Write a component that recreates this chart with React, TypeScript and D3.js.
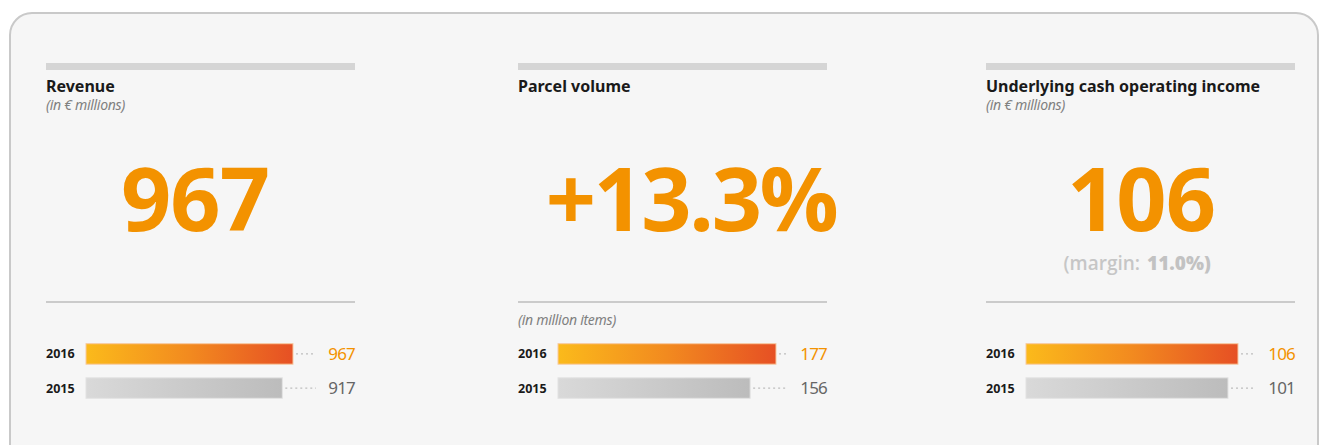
import React from "react";
import * as d3 from "d3";

const panelTitles = ["Revenue", "Parcel volume", "Underlying cash operating income"];
const panelUnits = ["(in € millions)", "", "(in € millions)"];
const headlineValues = ["967", "+13.3%", "106"];
const barUnits = ["", "(in million items)", ""];
const years = ["2016", "2015"];
const values2016 = [967, 177, 106];
const values2015 = [917, 156, 101];
const marginPrefix = ["", "", "(margin:"];
const marginValue = ["", "", "11.0%)"];

// layout (not data)
const panelX = [46, 518, 986];
const headlineCX = [195, 691, 1141];
const headlineLS = [-1, -2.5, -1];
const panelW = 309;
const barMaxW = [207, 218, 212];
const barX0 = 40;

const ORANGE = "#f39200";

export default function App() {
  const W = 1320, H = 445;
  const yBand = d3.scaleBand<string>().domain(years).range([342, 400]).paddingInner(0.4).paddingOuter(0.05);
  return (
    <svg width={W} height={H} style={{ position: "absolute", left: 0, top: 0 }} fontFamily="'Open Sans', 'Noto Sans', sans-serif">
      <defs>
        <linearGradient id="gOrange" x1="0" x2="1" y1="0" y2="0">
          <stop offset="0" stopColor="#fbba1b" />
          <stop offset="0.5" stopColor="#f28a1f" />
          <stop offset="1" stopColor="#e65024" />
        </linearGradient>
        <linearGradient id="gGrey" x1="0" x2="1" y1="0" y2="0">
          <stop offset="0" stopColor="#d9d9d9" />
          <stop offset="1" stopColor="#bcbcbc" />
        </linearGradient>
      </defs>
      <rect x={0} y={0} width={W} height={H} fill="#ffffff" />
      <rect x={10} y={13} width={1308} height={470} rx={22} ry={22} fill="#f6f6f6" stroke="#c9c9c9" strokeWidth={2} />
      {panelTitles.map((t, i) => {
        const x0 = panelX[i];
        const xs = d3.scaleLinear().domain([0, values2016[i]]).range([0, barMaxW[i]]);
        const vals = [values2016[i], values2015[i]];
        const cx = headlineCX[i];
        return (
          <g key={i}>
            <rect x={x0} y={63} width={panelW} height={7} fill="#d5d5d5" />
            <text x={x0} y={92} fontSize={16} fontWeight={700} fill="#1a1a1a" fontFamily="'Noto Sans', sans-serif">{t}</text>
            {panelUnits[i] && (
              <text x={x0} y={110} fontSize={14} fontStyle="italic" fill="#808080" fontFamily="'Noto Sans', sans-serif" letterSpacing={-0.3}>{panelUnits[i]}</text>
            )}
            <text x={cx} y={231} fontSize={88} fontWeight={700} fill={ORANGE} textAnchor="middle" letterSpacing={headlineLS[i]}>{headlineValues[i]}</text>
            {marginPrefix[i] && (
              <g>
                <text x={cx - 1} y={270} fontSize={19} fill="#c6c6c6" textAnchor="end" fontWeight={600}>{marginPrefix[i]}</text>
                <text x={cx + 6} y={270} fontSize={19} fill="#c2c2c2" textAnchor="start" fontWeight={800}>{marginValue[i]}</text>
              </g>
            )}
            <line x1={x0} x2={x0 + panelW} y1={302} y2={302} stroke="#bdbdbd" strokeWidth={1.5} />
            {barUnits[i] && (
              <text x={x0} y={325} fontSize={14} fontStyle="italic" fill="#808080" fontFamily="'Noto Sans', sans-serif" letterSpacing={-0.3}>{barUnits[i]}</text>
            )}
            {years.map((yr, j) => {
              const y = yBand(yr)!;
              const bh = yBand.bandwidth();
              const bw = xs(vals[j]);
              const bx = x0 + barX0;
              return (
                <g key={yr}>
                  <text x={x0} y={y + bh / 2 + 4.5} fontSize={12.5} fontWeight={700} fill="#1a1a1a" fontFamily="'Noto Sans', sans-serif">{yr}</text>
                  <rect x={bx} y={y} width={bw} height={bh} fill={j === 0 ? "url(#gOrange)" : "url(#gGrey)"} stroke={j === 0 ? "#f7c9a0" : "#e2e2e2"} strokeWidth={1} />
                  <line x1={bx + bw + 3} x2={x0 + 270} y1={y + bh / 2} y2={y + bh / 2} stroke="#bdbdbd" strokeWidth={1.2} strokeDasharray="2,3" />
                  <text x={x0 + panelW} y={y + bh / 2 + 6} fontSize={17} textAnchor="end" fill={j === 0 ? ORANGE : "#666666"} fontFamily="'Noto Sans', sans-serif" letterSpacing={-0.8}>{vals[j]}</text>
                </g>
              );
            })}
          </g>
        );
      })}
    </svg>
  );
}
